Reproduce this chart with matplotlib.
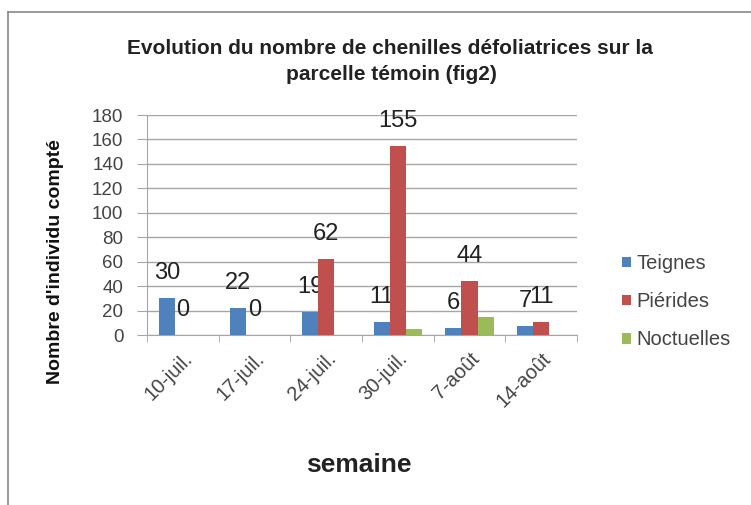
import matplotlib
matplotlib.use("Agg")
import matplotlib.pyplot as plt
from matplotlib.lines import Line2D
from matplotlib.patches import Patch
import numpy as np

plt.rcParams['font.family'] = ['Liberation Sans', 'DejaVu Sans']

categories = ["10-juil.", "17-juil.", "24-juil.", "30-juil.", "7-août", "14-août"]
teignes = [30, 22, 19, 11, 6, 7]
pierides = [0, 0, 62, 155, 44, 11]
noctuelles = [0, 0, 0, 5, 15, 0]
series_names = ["Teignes", "Piérides", "Noctuelles"]
colors = ["#4F81BD", "#C0504D", "#9BBB59"]

fig = plt.figure(figsize=(7.51, 5.05), dpi=100)
ax = fig.add_axes([147/751, 1-335/505, (577-147)/751, (335-115)/505])

x = np.arange(len(categories))
w = 0.225
series = [teignes, pierides, noctuelles]
for i, (vals, c) in enumerate(zip(series, colors)):
    ax.bar(x + (i-1)*w, vals, width=w, color=c, zorder=3)
    if i < 2:
        for xi, v in zip(x + (i-1)*w, vals):
            ax.annotate(str(v), (xi, v), xytext=(0, 18), textcoords="offset points",
                        ha="center", va="center", fontsize=17, color="#222222")

ax.set_xlim(-0.5, len(categories)-0.5)
ax.set_ylim(0, 180)
ax.set_yticks(range(0, 181, 20))
ax.yaxis.grid(True, color="#A6A6A6", linewidth=1, zorder=0)
ax.set_axisbelow(True)
for s in ["top", "right"]:
    ax.spines[s].set_visible(False)
ax.spines["left"].set_color("#A6A6A6")
ax.spines["bottom"].set_color("#A6A6A6")
ax.tick_params(axis="y", length=7, color="#A6A6A6", labelsize=13.5, labelcolor="#444444", pad=10)
ax.set_xticks(x)
ax.set_xticklabels(categories, rotation=45, ha="right", rotation_mode="anchor",
                   fontsize=14.5, color="#444444")
ax.tick_params(axis="x", length=0, pad=10)
ax.set_xticks(np.arange(-0.5, len(categories), 1), minor=True)
ax.tick_params(axis="x", which="minor", length=5, color="#A6A6A6")

fig.text(56/751, 1-262/505, "Nombre d'individu compté", fontsize=14, fontweight="bold",
         rotation=90, ha="center", va="center", color="#111111")
fig.text(359/751, 1-465/505, "semaine", fontsize=19, fontweight="bold", ha="center",
         va="center", color="#222222")

fig.text(390/751, 1-48/505, "Evolution du nombre de chenilles défoliatrices sur la",
         fontsize=15, fontweight="bold", ha="center", va="center", color="#222222")
fig.text(391/751, 1-74/505, "parcelle témoin (fig2)",
         fontsize=15, fontweight="bold", ha="center", va="center", color="#222222")

handles = [Patch(facecolor=c, edgecolor="none") for c in colors]
fig.legend(handles, series_names, loc="upper left", bbox_to_anchor=(604/751, 1-236/505),
           frameon=False, fontsize=14.5, handlelength=0.45, handleheight=0.45,
           handletextpad=0.25, labelspacing=0.95, labelcolor="#444444")

fig.add_artist(Line2D([8/751, 1], [1-12/505, 1-12/505], color="#888888", linewidth=1.2))
fig.add_artist(Line2D([8/751, 8/751], [0, 1-12/505], color="#888888", linewidth=1.2))

fig.savefig("out.png", dpi=100)
